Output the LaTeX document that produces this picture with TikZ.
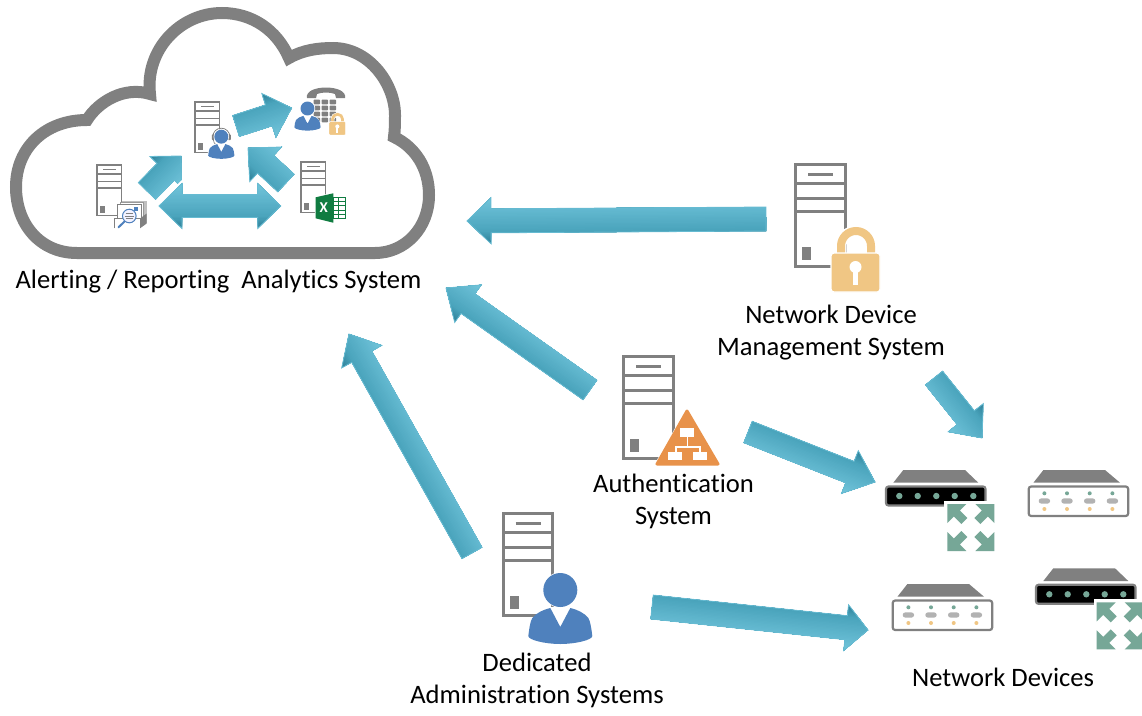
\documentclass[tikz,border=0pt]{standalone}
\usepackage{fontspec}
\setmainfont{Carlito}[Ligatures=NoCommon]
\definecolor{cgray}{HTML}{808080}
\definecolor{cblue}{HTML}{4F81BD}
\definecolor{clock}{HTML}{F0C684}
\definecolor{corange}{HTML}{E8924A}
\definecolor{cgreen}{HTML}{76A797}
\definecolor{cxl}{HTML}{107C41}
\definecolor{gA}{HTML}{2F8097}
\definecolor{gB}{HTML}{4AA4BC}
\definecolor{gC}{HTML}{66BBD2}
\definecolor{gD}{HTML}{74C6DB}
\tikzset{
  label text/.style={font=\fontsize{26.6}{32}\selectfont,text=black,align=center,inner sep=0pt},
  arrow rim/.style={draw=gC,line width=0.8pt,line join=miter},
  icon line/.style={draw=cgray},
}
% gradient bands for a block arrow in its own frame
\newcommand\baBands[1]{%
  \begin{scope}
    \clip \baPoly;
    \foreach \i in {0,...,35}{%
      \pgfmathsetmacro\baY{#1/2-#1*\i/35}%
      \pgfmathtruncatemacro\baP{\i<9 ? 100-\i*100/9 : (\i<27 ? 100-(\i-9)*100/18 : 100-(\i-27)*100/8)}%
      \ifnum\i<9 \colorlet{baC}{gA!\baP!gB}\else\ifnum\i<27 \colorlet{baC}{gB!\baP!gC}\else\colorlet{baC}{gC!\baP!gD}\fi\fi
      \fill[baC] (-2,\baY) rectangle (\baLen+2,-#1/2-2);
    }
  \end{scope}
  \path[arrow rim] \baPoly;
}
\newcommand\baFrame[2]{%
  \pgfpointanchor{#1}{center}\pgfgetlastxy\baAx\baAy
  \pgfpointanchor{#2}{center}\pgfgetlastxy\baBx\baBy
  \pgfmathsetmacro\baAng{atan2(\baBy-\baAy,\baBx-\baAx)}%
  \pgfmathsetmacro\baLen{veclen(\baBx-\baAx,\baBy-\baAy)}%
}
% \blockarrow{from}{to}{shaft}{head width}{head length}
\newcommand\blockarrow[5]{%
  \baFrame{#1}{#2}%
  \begin{scope}[x=1pt,y=1pt,shift={(\baAx,\baAy)},rotate=\baAng]
    \def\baPoly{(0,#3/2) -- (\baLen-#5,#3/2) -- (\baLen-#5,#4/2) -- (\baLen,0) -- (\baLen-#5,-#4/2) -- (\baLen-#5,-#3/2) -- (0,-#3/2) -- cycle}%
    \baBands{#4}%
  \end{scope}
}
\newcommand\doublearrow[5]{%
  \baFrame{#1}{#2}%
  \begin{scope}[x=1pt,y=1pt,shift={(\baAx,\baAy)},rotate=\baAng]
    \def\baPoly{(0,0) -- (#5,#4/2) -- (#5,#3/2) -- (\baLen-#5,#3/2) -- (\baLen-#5,#4/2) -- (\baLen,0) -- (\baLen-#5,-#4/2) -- (\baLen-#5,-#3/2) -- (#5,-#3/2) -- (#5,-#4/2) -- cycle}%
    \path[draw=white,line width=5pt] \baPoly;
    \baBands{#4}%
  \end{scope}
}
% \servericon{name}{x}{y}{scale}
\newcommand\servericon[4]{%
  \begin{scope}[shift={(#2,#3)},scale=#4,line width={3*#4}]
    \coordinate (#1) at (26,52);
    \draw[icon line,fill=white] (1.5,1.5) rectangle (51,103);
    \draw[icon line] (1.5,20) -- (51,20) (1.5,48) -- (51,48);
    \draw[icon line] (1.5,35) -- (51,35);
    \draw[icon line] (14,11) -- (39,11);
    \fill[cgray] (8,84) rectangle (17,97);
  \end{scope}
}
% \personshape: head centre at the origin
\newcommand\personshape[1]{%
  \path[fill=#1] (-10,18) -- (0,37) -- (10,18)
     .. controls (18,20) and (24,23) .. (28,28)
     .. controls (30,31) and (31,38) .. (32,46)
     .. controls (32,50) and (15,54) .. (0,54)
     .. controls (-15,54) and (-32,50) .. (-32,46)
     .. controls (-31,38) and (-30,31) .. (-28,28)
     .. controls (-24,23) and (-18,20) .. (-10,18) -- cycle;
}
\newcommand\personicon[4]{%
  \begin{scope}[shift={(#2,#3)},scale=#4]
    \coordinate (#1) at (0,18);
    \path[fill=white,draw=white,line width=1.5] (0,0) circle (17);
    \path[draw=white,line width=2,fill=white] (-10,18) -- (10,18) .. controls (24,23) and (30,31) .. (32,46) .. controls (32,50) and (15,54) .. (0,54) .. controls (-15,54) and (-32,50) .. (-32,46) .. controls (-30,31) and (-24,23) .. (-10,18) -- cycle;
    \fill[cblue] (0,0) circle (17);
    \personshape{cblue}
  \end{scope}
}
% \lockicon{name}{x}{y}{scale}, origin at the body's top left
\newcommand\lockicon[4]{%
  \begin{scope}[shift={(#2,#3)},scale=#4]
    \coordinate (#1) at (24.5,14);
    \path[draw=white,line width={11*#4}] (10,3) -- (10,-7) arc[start angle=180,end angle=360,radius=15] -- (40,3);
    \path[draw=clock,line width={8*#4}] (10,3) -- (10,-7) arc[start angle=180,end angle=360,radius=15] -- (40,3);
    \path[fill=clock,draw=white,line width={1.2*#4},rounded corners={3*#4}] (0,0) rectangle (49,39);
    \fill[white] (24.5,14) circle (6);
    \fill[white] (22,14) rectangle (27,32);
  \end{scope}
}
% \moveicon{name}{x}{y}
\newcommand\movearm{(0,0) -- (19,0) -- (12.5,6.5) -- (20,14) -- (14,20) -- (6.5,12.5) -- (0,19) -- cycle}
\newcommand\moveicon[3]{%
  \begin{scope}[shift={(#2,#3)}]
    \coordinate (#1) at (23.5,23.5);
    \fill[white] (-3,-3) rectangle (48,48);
    \fill[cgreen] \movearm;
    \begin{scope}[shift={(47,0)},xscale=-1] \fill[cgreen] \movearm; \end{scope}
    \begin{scope}[shift={(0,47)},yscale=-1] \fill[cgreen] \movearm; \end{scope}
    \begin{scope}[shift={(47,47)},xscale=-1,yscale=-1] \fill[cgreen] \movearm; \end{scope}
  \end{scope}
}
% \darkdevice{name}{x}{y}
\newcommand\darkdevice[3]{%
  \begin{scope}[shift={(#2,#3)}]
    \coordinate (#1) at (50,20);
    \fill[cgray] (8.3,12.7) -- (18.3,0) -- (80,0) -- (93.3,12.7) -- cycle;
    \draw[draw=cgray,fill=black,line width=2.2,rounded corners=2.5] (1,16.5) rectangle (100.5,35.5);
    \foreach \dx in {14.3,32.7,51.3,69.7,88.3} \fill[cgreen] (\dx,26) circle (3.2);
  \end{scope}
}
\newcommand\lightdevice[3]{%
  \begin{scope}[shift={(#2,#3)}]
    \coordinate (#1) at (50,25);
    \fill[cgray] (5.7,12.7) -- (15.7,0) -- (77.3,0) -- (92.3,12.7) -- cycle;
    \draw[draw=cgray,fill=white,line width=2.2,rounded corners=2.5] (1,16.5) rectangle (100.5,46);
    \foreach \dx in {16.7,39.3,62,84.7}{%
      \fill[cgreen] (\dx,23.3) circle (2);
      \fill[black!30,rounded corners=2.6] (\dx-5.7,28.4) rectangle (\dx+5.7,33.6);
      \fill[clock] (\dx,39) circle (2);
    }
  \end{scope}
}
\begin{document}
\begin{tikzpicture}[x=1pt,y=-1pt]
\useasboundingbox (0,0) rectangle (1142,715);
% cloud
\path[draw=cgray,fill=white,line width=12,line join=miter,miter limit=3] (77,253)
  .. controls (40,253) and (16,224) .. (16,187)
  .. controls (16,148) and (45,120) .. (87,120)
  .. controls (98,102) and (124,86) .. (150,94)
  .. controls (145,50) and (180,13) .. (222,13)
  .. controls (252,13) and (277,30) .. (289,58)
  .. controls (303,50) and (318,48) .. (333,48)
  .. controls (370,48) and (395,85) .. (395,115)
  .. controls (395,122) and (395,130) .. (394,137)
  .. controls (415,147) and (429,168) .. (429,195)
  .. controls (429,228) and (405,253) .. (375,253)
  -- cycle;
% connector end points
\coordinate (mgmtOut) at (766,219);   \coordinate (cloudA) at (467,221);
\coordinate (authOut) at (590,390);   \coordinate (cloudB) at (446,288);
\coordinate (adminOut) at (472,553);  \coordinate (cloudC) at (349,334);
\coordinate (authDev) at (748,432);   \coordinate (devA) at (875,482);
\coordinate (adminDev) at (652,607);  \coordinate (devB) at (868,630);
\coordinate (mgmtDev) at (934,378);   \coordinate (devC) at (982,438);
\coordinate (repOut) at (147,191);    \coordinate (headIn) at (181,156);
\coordinate (headOut) at (236,126);   \coordinate (phoneIn) at (291.7,108);
\coordinate (xlOut) at (286,183);     \coordinate (headInB) at (248,148);
\coordinate (xlSide) at (280.7,206);  \coordinate (repSide) at (159,206);
% arrows
\blockarrow{mgmtOut}{cloudA}{24}{46}{24}
\blockarrow{authOut}{cloudB}{24}{46}{27}
\blockarrow{adminOut}{cloudC}{23}{46}{26}
\blockarrow{authDev}{devA}{23}{46}{27}
\blockarrow{adminDev}{devB}{24}{46}{22}
\blockarrow{mgmtDev}{devC}{22}{45}{26}
\blockarrow{repOut}{headIn}{24}{44}{22}
\blockarrow{headOut}{phoneIn}{22}{46}{24}
\blockarrow{xlOut}{headInB}{24}{47}{24}
\doublearrow{xlSide}{repSide}{23}{45}{23}
% servers
\servericon{srvMgmt}{794}{163}{1}
\servericon{srvAuth}{622}{355}{1}
\servericon{srvAdmin}{501.5}{512}{1}
\servericon{srvRep}{96}{164}{0.5}
\servericon{srvHead}{194}{101}{0.5}
\servericon{srvXl}{300}{161}{0.5}
% lock on the management system
\lockicon{lockMgmt}{831}{253}{1}
% authentication triangle
\path[fill=corange,draw=white,line width=4,line join=round] (687,411) -- (718,464) -- (657,464) -- cycle;
\path[fill=corange,draw=corange,line width=3,line join=round] (687,411) -- (718,464) -- (657,464) -- cycle;
\fill[white] (680,427.7) rectangle (694.3,436.7);
\fill[white] (668.3,451.7) rectangle (682.3,460);
\fill[white] (692.7,451.7) rectangle (706.7,460);
\draw[white,line width=1.6] (687.3,436) -- (687.3,446.7) (676,452) -- (676,446.7) -- (700,446.7) -- (700,452);
% administrator
\personicon{admin}{560.3}{590}{1}
% headset person
\begin{scope}[shift={(221.3,136.7)}]
  \draw[cgray,line width=0.8] (-8.5,0) arc[start angle=180,end angle=360,radius=8.5];
  \fill[cgray,rounded corners=1] (-9.5,-2.5) rectangle (-6.5,3.5);
  \fill[cgray,rounded corners=1] (6.5,-2.5) rectangle (9.5,3.5);
  \draw[cgray,line width=0.6] (-8,3) .. controls (-7.5,8) and (-4,9) .. (-1,9);
\end{scope}
\personicon{headPerson}{221.3}{136.7}{0.41}
% phone icon
\path[fill=cgray] (307,98) .. controls (304,84) and (348,84) .. (345,98) -- (336,98) -- (335,94) .. controls (330,92) and (322,92) .. (317,94) -- (316,98) -- cycle;
\foreach \kx in {313.5,321.5,329.5}
  \foreach \ky in {99.5,105.5,111.5,117.5}
    \fill[cgray,rounded corners=0.8] (\kx,\ky) rectangle (\kx+6.5,\ky+4.8);
\personicon{phonePerson}{307.5}{108.5}{0.41}
\lockicon{lockPhone}{329}{121.7}{0.34}
% spreadsheet icon
\path[fill=white,draw=white,line width=1.5] (315.7,197.3) -- (333.3,193.3) -- (333.3,197.3) -- (345,197.3) -- (345,218.3) -- (333.3,218.3) -- (333.3,222.7) -- (315.7,218.3) -- cycle;
\draw[cxl,line width=0.6,fill=white] (333.3,197.3) rectangle (345,218.3);
\foreach \gy in {201.5,205.7,209.9,214.1} \draw[cxl,line width=0.6] (333.3,\gy) -- (345,\gy);
\draw[cxl,line width=0.6] (338.5,197.3) -- (338.5,218.3);
\fill[cxl] (315.7,197.3) -- (333.3,193.3) -- (333.3,222.7) -- (315.7,218.3) -- cycle;
\node[text=white,inner sep=0pt,font=\fontsize{15}{15}\selectfont\bfseries] (xlMark) at (323.8,208) {X};
% report icon
\draw[black!25,fill=black!25] (122,201) rectangle (146,222);
\draw[black!40,line width=0.5,fill=white] (120,202.5) rectangle (143,222);
\draw[cgray,line width=0.7,fill=white] (117.7,204.5) rectangle (141.7,224);
\fill[cblue] (134,206.7) rectangle (137.5,211);
\path[fill=cgray] (140,218.5) -- (146.7,213.5) -- (146.7,223.5) -- (140,228.3) -- cycle;
\draw[cgray,line width=0.8,fill=white] (114.6,228.3) -- (114.6,218.5) -- (140,218.5) -- (140,228.3);
\draw[cblue,line width=2,line cap=round] (124.3,221.7) -- (118.5,227.3);
\draw[cblue,line width=1,fill=blue!5] (129.3,216) circle (6.8);
\draw[cgray,line width=0.5] (125.5,213.5) -- (133,213.5) (124.5,216) -- (134,216) (125.5,218.5) -- (133,218.5);
% network devices
\darkdevice{devOne}{885}{470}
\moveicon{moveOne}{947.3}{504}
\lightdevice{devTwo}{1027.7}{470}
\lightdevice{devThree}{891.7}{584}
\darkdevice{devFour}{1035}{568.3}
\moveicon{moveTwo}{1096.7}{602.3}
% labels
\node[label text] (lblCloud) at (218.5,281.5) {Alerting / Reporting\ \ Analytics System};
\node[label text] (lblMgmt) at (831,332.5) {Network Device\\Management System};
\node[label text] (lblAuth) at (673.5,501.5) {Authentication\\System};
\node[label text] (lblAdmin) at (537,680.5) {Dedicated\\Administration Systems};
\node[label text] (lblDev) at (1003,677) {Network Devices};
\end{tikzpicture}
\end{document}
